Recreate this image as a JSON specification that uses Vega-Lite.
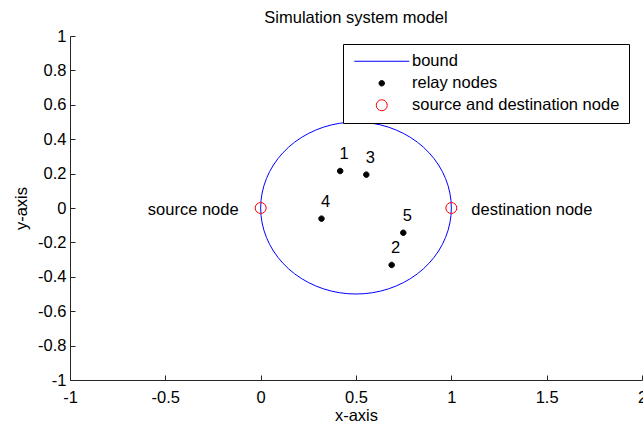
{
  "$schema": "https://vega.github.io/schema/vega-lite/v6.json",
  "width": 572,
  "height": 344,
  "autosize": "none",
  "padding": {"left": 70, "top": 36, "right": 1, "bottom": 43},
  "background": "white",
  "title": {"text": "Simulation system model", "fontSize": 16.5, "font": "Liberation Sans", "fontWeight": "normal", "color": "#000000", "offset": 2, "anchor": "middle"},
  "config": {
    "view": {"stroke": null},
    "font": "Liberation Sans",
    "axis": {
      "grid": false,
      "domainColor": "#262626",
      "tickColor": "#262626",
      "labelColor": "#000000",
      "titleColor": "#000000",
      "labelFontSize": 16.5,
      "titleFontSize": 16.5,
      "titleFontWeight": "normal",
      "labelFont": "Liberation Sans",
      "titleFont": "Liberation Sans",
      "tickSize": -5,
      "labelFlush": false,
      "labelOverlap": false
    },
    "legend": {
      "orient": "none",
      "legendX": 273,
      "legendY": 8,
      "padding": 9,
      "strokeColor": "#000000",
      "fillColor": "#ffffff",
      "labelFont": "Liberation Sans",
      "labelFontSize": 16.5,
      "labelColor": "#000000",
      "labelLimit": 400,
      "symbolSize": 121,
      "symbolStrokeWidth": 1,
      "symbolOpacity": 1,
      "symbolOffset": 21.5,
      "labelOffset": 22,
      "rowPadding": 5
    }
  },
  "datasets": {
    "bound": [
      {"i": 0, "x": 1, "y": 0, "series": "bound"},
      {"i": 1, "x": 0.9981, "y": 0.0436, "series": "bound"},
      {"i": 2, "x": 0.9924, "y": 0.0868, "series": "bound"},
      {"i": 3, "x": 0.983, "y": 0.1294, "series": "bound"},
      {"i": 4, "x": 0.9698, "y": 0.171, "series": "bound"},
      {"i": 5, "x": 0.9532, "y": 0.2113, "series": "bound"},
      {"i": 6, "x": 0.933, "y": 0.25, "series": "bound"},
      {"i": 7, "x": 0.9096, "y": 0.2868, "series": "bound"},
      {"i": 8, "x": 0.883, "y": 0.3214, "series": "bound"},
      {"i": 9, "x": 0.8536, "y": 0.3536, "series": "bound"},
      {"i": 10, "x": 0.8214, "y": 0.383, "series": "bound"},
      {"i": 11, "x": 0.7868, "y": 0.4096, "series": "bound"},
      {"i": 12, "x": 0.75, "y": 0.433, "series": "bound"},
      {"i": 13, "x": 0.7113, "y": 0.4532, "series": "bound"},
      {"i": 14, "x": 0.671, "y": 0.4698, "series": "bound"},
      {"i": 15, "x": 0.6294, "y": 0.483, "series": "bound"},
      {"i": 16, "x": 0.5868, "y": 0.4924, "series": "bound"},
      {"i": 17, "x": 0.5436, "y": 0.4981, "series": "bound"},
      {"i": 18, "x": 0.5, "y": 0.5, "series": "bound"},
      {"i": 19, "x": 0.4564, "y": 0.4981, "series": "bound"},
      {"i": 20, "x": 0.4132, "y": 0.4924, "series": "bound"},
      {"i": 21, "x": 0.3706, "y": 0.483, "series": "bound"},
      {"i": 22, "x": 0.329, "y": 0.4698, "series": "bound"},
      {"i": 23, "x": 0.2887, "y": 0.4532, "series": "bound"},
      {"i": 24, "x": 0.25, "y": 0.433, "series": "bound"},
      {"i": 25, "x": 0.2132, "y": 0.4096, "series": "bound"},
      {"i": 26, "x": 0.1786, "y": 0.383, "series": "bound"},
      {"i": 27, "x": 0.1464, "y": 0.3536, "series": "bound"},
      {"i": 28, "x": 0.117, "y": 0.3214, "series": "bound"},
      {"i": 29, "x": 0.0904, "y": 0.2868, "series": "bound"},
      {"i": 30, "x": 0.067, "y": 0.25, "series": "bound"},
      {"i": 31, "x": 0.0468, "y": 0.2113, "series": "bound"},
      {"i": 32, "x": 0.0302, "y": 0.171, "series": "bound"},
      {"i": 33, "x": 0.017, "y": 0.1294, "series": "bound"},
      {"i": 34, "x": 0.0076, "y": 0.0868, "series": "bound"},
      {"i": 35, "x": 0.0019, "y": 0.0436, "series": "bound"},
      {"i": 36, "x": 0, "y": 0, "series": "bound"},
      {"i": 37, "x": 0.0019, "y": -0.0436, "series": "bound"},
      {"i": 38, "x": 0.0076, "y": -0.0868, "series": "bound"},
      {"i": 39, "x": 0.017, "y": -0.1294, "series": "bound"},
      {"i": 40, "x": 0.0302, "y": -0.171, "series": "bound"},
      {"i": 41, "x": 0.0468, "y": -0.2113, "series": "bound"},
      {"i": 42, "x": 0.067, "y": -0.25, "series": "bound"},
      {"i": 43, "x": 0.0904, "y": -0.2868, "series": "bound"},
      {"i": 44, "x": 0.117, "y": -0.3214, "series": "bound"},
      {"i": 45, "x": 0.1464, "y": -0.3536, "series": "bound"},
      {"i": 46, "x": 0.1786, "y": -0.383, "series": "bound"},
      {"i": 47, "x": 0.2132, "y": -0.4096, "series": "bound"},
      {"i": 48, "x": 0.25, "y": -0.433, "series": "bound"},
      {"i": 49, "x": 0.2887, "y": -0.4532, "series": "bound"},
      {"i": 50, "x": 0.329, "y": -0.4698, "series": "bound"},
      {"i": 51, "x": 0.3706, "y": -0.483, "series": "bound"},
      {"i": 52, "x": 0.4132, "y": -0.4924, "series": "bound"},
      {"i": 53, "x": 0.4564, "y": -0.4981, "series": "bound"},
      {"i": 54, "x": 0.5, "y": -0.5, "series": "bound"},
      {"i": 55, "x": 0.5436, "y": -0.4981, "series": "bound"},
      {"i": 56, "x": 0.5868, "y": -0.4924, "series": "bound"},
      {"i": 57, "x": 0.6294, "y": -0.483, "series": "bound"},
      {"i": 58, "x": 0.671, "y": -0.4698, "series": "bound"},
      {"i": 59, "x": 0.7113, "y": -0.4532, "series": "bound"},
      {"i": 60, "x": 0.75, "y": -0.433, "series": "bound"},
      {"i": 61, "x": 0.7868, "y": -0.4096, "series": "bound"},
      {"i": 62, "x": 0.8214, "y": -0.383, "series": "bound"},
      {"i": 63, "x": 0.8536, "y": -0.3536, "series": "bound"},
      {"i": 64, "x": 0.883, "y": -0.3214, "series": "bound"},
      {"i": 65, "x": 0.9096, "y": -0.2868, "series": "bound"},
      {"i": 66, "x": 0.933, "y": -0.25, "series": "bound"},
      {"i": 67, "x": 0.9532, "y": -0.2113, "series": "bound"},
      {"i": 68, "x": 0.9698, "y": -0.171, "series": "bound"},
      {"i": 69, "x": 0.983, "y": -0.1294, "series": "bound"},
      {"i": 70, "x": 0.9924, "y": -0.0868, "series": "bound"},
      {"i": 71, "x": 0.9981, "y": -0.0436, "series": "bound"},
      {"i": 72, "x": 1, "y": 0, "series": "bound"}
    ],
    "relay": [
      {"id": "1", "x": 0.417, "y": 0.215, "series": "relay nodes"},
      {"id": "2", "x": 0.687, "y": -0.331, "series": "relay nodes"},
      {"id": "3", "x": 0.554, "y": 0.194, "series": "relay nodes"},
      {"id": "4", "x": 0.319, "y": -0.062, "series": "relay nodes"},
      {"id": "5", "x": 0.748, "y": -0.144, "series": "relay nodes"}
    ],
    "sd": [
      {"x": 0, "y": 0, "label": "source node", "side": "left", "series": "source and destination node"},
      {"x": 1, "y": 0, "label": "destination node", "side": "right", "series": "source and destination node"}
    ]
  },
  "layer": [
    {
      "data": {"name": "bound"},
      "mark": {"type": "line", "strokeWidth": 1, "interpolate": "linear", "opacity": 1},
      "encoding": {
        "x": {"field": "x", "type": "quantitative",
          "scale": {"domain": [-1, 2], "nice": false, "zero": false},
          "axis": {"title": "x-axis", "values": [-1, -0.5, 0, 0.5, 1, 1.5, 2], "labelExpr": "'' + datum.value", "labelPadding": 14, "titlePadding": 2, "labelOverlap": false}},
        "y": {"field": "y", "type": "quantitative",
          "scale": {"domain": [-1, 1], "nice": false, "zero": false},
          "axis": {"title": "y-axis", "tickCount": 10, "labelExpr": "'' + round(datum.value * 10) / 10", "labelPadding": 9, "titlePadding": 8, "labelOverlap": false, "labelSeparation": 0, "labelBound": false}},
        "order": {"field": "i", "type": "quantitative"},
        "stroke": {"field": "series", "type": "nominal",
          "scale": {"domain": ["bound", "relay nodes", "source and destination node"], "range": ["#0000ff", "#000000", "#ff0000"]},
          "legend": {"title": null}
        }
      }
    },
    {
      "data": {"name": "relay"},
      "mark": {"type": "point", "size": 121, "strokeWidth": 1, "opacity": 1},
      "encoding": {
        "x": {"field": "x", "type": "quantitative"},
        "y": {"field": "y", "type": "quantitative"},
        "stroke": {"field": "series", "type": "nominal", "legend": {"title": null}},
        "fill": {"field": "series", "type": "nominal",
          "scale": {"domain": ["bound", "relay nodes", "source and destination node"], "range": ["transparent", "#000000", "transparent"]},
          "legend": {"title": null}},
        "shape": {"field": "series", "type": "nominal",
          "scale": {"domain": ["bound", "relay nodes", "source and destination node"], "range": ["M-5,0H5", "M-0.5,0A0.5,0.5,0,1,1,0.5,0A0.5,0.5,0,1,1,-0.5,0Z", "M-1,0A1,1,0,1,1,1,0A1,1,0,1,1,-1,0Z"]},
          "legend": {"title": null}}
      }
    },
    {
      "data": {"name": "relay"},
      "mark": {"type": "text", "fontSize": 16.5, "font": "Liberation Sans", "color": "#000000", "align": "center", "baseline": "alphabetic", "dx": 4, "dy": -12},
      "encoding": {
        "x": {"field": "x", "type": "quantitative"},
        "y": {"field": "y", "type": "quantitative"},
        "text": {"field": "id"}
      }
    },
    {
      "data": {"name": "sd"},
      "mark": {"type": "point", "size": 121, "strokeWidth": 1, "opacity": 1},
      "encoding": {
        "x": {"field": "x", "type": "quantitative"},
        "y": {"field": "y", "type": "quantitative"},
        "stroke": {"field": "series", "type": "nominal", "legend": {"title": null}},
        "fill": {"field": "series", "type": "nominal", "legend": {"title": null}},
        "shape": {"field": "series", "type": "nominal", "legend": {"title": null}}
      }
    },
    {
      "data": {"name": "sd"},
      "transform": [{"filter": "datum.side === 'left'"}],
      "mark": {"type": "text", "fontSize": 16.5, "font": "Liberation Sans", "color": "#000000", "align": "right", "baseline": "middle", "dx": -22, "dy": 2},
      "encoding": {
        "x": {"field": "x", "type": "quantitative"},
        "y": {"field": "y", "type": "quantitative"},
        "text": {"field": "label"}
      }
    },
    {
      "data": {"name": "sd"},
      "transform": [{"filter": "datum.side === 'right'"}],
      "mark": {"type": "text", "fontSize": 16.5, "font": "Liberation Sans", "color": "#000000", "align": "left", "baseline": "middle", "dx": 20, "dy": 2},
      "encoding": {
        "x": {"field": "x", "type": "quantitative"},
        "y": {"field": "y", "type": "quantitative"},
        "text": {"field": "label"}
      }
    }
  ]
}
